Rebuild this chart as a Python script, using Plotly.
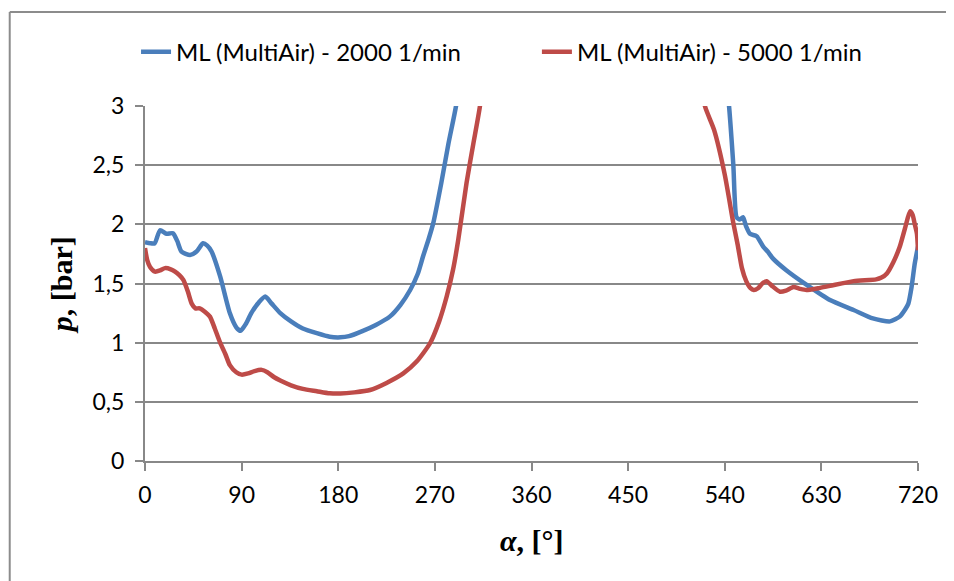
import plotly.graph_objects as go

# crank angle [deg] and pressure [bar]
alpha_2000 = [0, 5, 9, 14, 20, 26, 30, 34, 42, 48, 54, 58, 62, 70, 79, 85, 89, 94, 99,
              106, 112, 118, 126, 136, 147, 160, 172, 182, 190, 203, 215, 228, 238,
              247, 254, 259, 264, 268.5, 276, 282.6, 289.7, 296, 305, 320, 340, 360,
              380, 420, 480, 520, 535, 544, 548, 551, 554, 557, 560, 563.5, 569.7, 576,
              580, 585, 597.6, 616, 638, 660, 678, 694, 703, 708, 711, 714, 717, 720]
p_2000 = [1.85, 1.84, 1.84, 1.95, 1.92, 1.925, 1.86, 1.77, 1.74, 1.77, 1.84, 1.82, 1.77,
          1.56, 1.25, 1.13, 1.10, 1.16, 1.25, 1.34, 1.39, 1.33, 1.25, 1.18, 1.12, 1.08,
          1.05, 1.045, 1.055, 1.10, 1.15, 1.22, 1.32, 1.445, 1.58, 1.73, 1.87, 2.01,
          2.35, 2.68, 3.0, 3.4, 4.2, 7, 15, 25, 18, 10, 6, 4.5, 3.8, 3.0, 2.5, 2.06,
          2.04, 2.06, 1.98, 1.92, 1.90, 1.81, 1.77, 1.71, 1.61, 1.49, 1.36, 1.276,
          1.205, 1.18, 1.22, 1.28, 1.33, 1.47, 1.67, 1.81]

alpha_5000 = [0, 2, 4.7, 9.3, 14, 18.6, 24, 28, 32, 35.7, 40, 43.5, 47, 51, 56, 60.5, 65,
              70, 75, 79, 85, 90, 96, 102, 108.7, 114, 120, 126, 136, 147, 160, 172, 182,
              195, 209.6, 225, 240.6, 253, 265.5, 274, 281, 287, 291.8, 299.5, 305.8,
              312, 318, 330, 360, 400, 450, 490, 510, 521.5, 530, 540, 548, 552, 556,
              560, 564, 567, 571, 575, 579, 584, 591.5, 597, 604, 610, 616, 627, 638,
              660, 681, 686, 691, 697, 703, 708, 712.6, 715, 717, 719, 720]
p_5000 = [1.80, 1.70, 1.64, 1.60, 1.61, 1.63, 1.62, 1.60, 1.57, 1.53, 1.43, 1.33, 1.29,
          1.29, 1.26, 1.22, 1.12, 1.0, 0.9, 0.81, 0.75, 0.73, 0.74, 0.76, 0.77, 0.75,
          0.71, 0.68, 0.64, 0.61, 0.59, 0.572, 0.57, 0.58, 0.60, 0.66, 0.74, 0.84,
          0.995, 1.18, 1.39, 1.62, 1.87, 2.35, 2.68, 3.0, 3.5, 5, 20, 12, 7, 4.5, 3.6,
          3.0, 2.8, 2.42, 2.01, 1.83, 1.63, 1.52, 1.46, 1.445, 1.46, 1.50, 1.52, 1.48,
          1.43, 1.44, 1.47, 1.455, 1.445, 1.46, 1.48, 1.52, 1.535, 1.55, 1.585, 1.68,
          1.81, 1.97, 2.11, 2.08, 2.0, 1.92, 1.78]

x_ticks = [0, 90, 180, 270, 360, 450, 540, 630, 720]
y_ticks = [0, 0.5, 1, 1.5, 2, 2.5, 3]

grey = '#888888'
tick_font = dict(family='Lato', size=23, color='black')
legend_font = dict(family='Lato', size=24, color='black')

fig = go.Figure()
fig.add_trace(go.Scatter(x=alpha_2000, y=p_2000, mode='lines',
                         name='ML (MultiAir) - 2000 1/min', legend='legend',
                         line=dict(color='#4A7EBB', width=4.5, shape='spline', smoothing=0.6)))
fig.add_trace(go.Scatter(x=alpha_5000, y=p_5000, mode='lines',
                         name='ML (MultiAir) - 5000 1/min', legend='legend2',
                         line=dict(color='#BE4B48', width=4.5, shape='spline', smoothing=0.6)))

# page body has an 8px margin, so the figure is a little smaller than the window
fig.update_layout(
    width=946, height=573,
    margin=dict(l=137, r=36, t=98, b=120),
    paper_bgcolor='white', plot_bgcolor='white',
    separators=',.',
    showlegend=True,
    legend=dict(orientation='h', x=-0.0116, y=1.152, xanchor='left', yanchor='middle',
                font=legend_font, bgcolor='rgba(0,0,0,0)'),
    legend2=dict(orientation='h', x=0.507, y=1.152, xanchor='left', yanchor='middle',
                 font=legend_font, bgcolor='rgba(0,0,0,0)'),
    xaxis=dict(range=[0, 720], tickvals=x_ticks, showgrid=False, zeroline=False,
               showline=True, linecolor=grey, linewidth=2,
               ticks='outside', ticklen=8, tickcolor=grey, tickwidth=2,
               ticklabelstandoff=4, tickfont=tick_font),
    yaxis=dict(range=[0, 3], tickvals=y_ticks, showgrid=True, gridcolor=grey, gridwidth=2,
               zeroline=False, showline=True, linecolor=grey, linewidth=2,
               ticks='outside', ticklen=8, tickcolor=grey, tickwidth=2,
               ticklabelstandoff=6, tickfont=tick_font),
    annotations=[
        dict(text='<b><i>p</i>, [bar]</b>', xref='paper', yref='paper',
             x=-0.107, y=0.496, textangle=-90, showarrow=False,
             xanchor='center', yanchor='middle',
             font=dict(family='Liberation Serif', size=30, color='black')),
        dict(text='<b><i>α</i>, [°]</b>', xref='paper', yref='paper',
             x=0.5, y=-0.225, showarrow=False, xanchor='center', yanchor='middle',
             font=dict(family='Liberation Serif', size=30, color='black')),
    ],
    # chart frame: only its left and top edges fall inside the picture
    shapes=[
        dict(type='line', xref='paper', yref='paper', x0=-0.175, x1=-0.175,
             y0=-0.6, y1=1.265, line=dict(color='#8c8c8c', width=2)),
        dict(type='line', xref='paper', yref='paper', x0=-0.175, x1=1.3,
             y0=1.265, y1=1.265, line=dict(color='#8c8c8c', width=2)),
    ],
)

fig.write_html("out.html")
